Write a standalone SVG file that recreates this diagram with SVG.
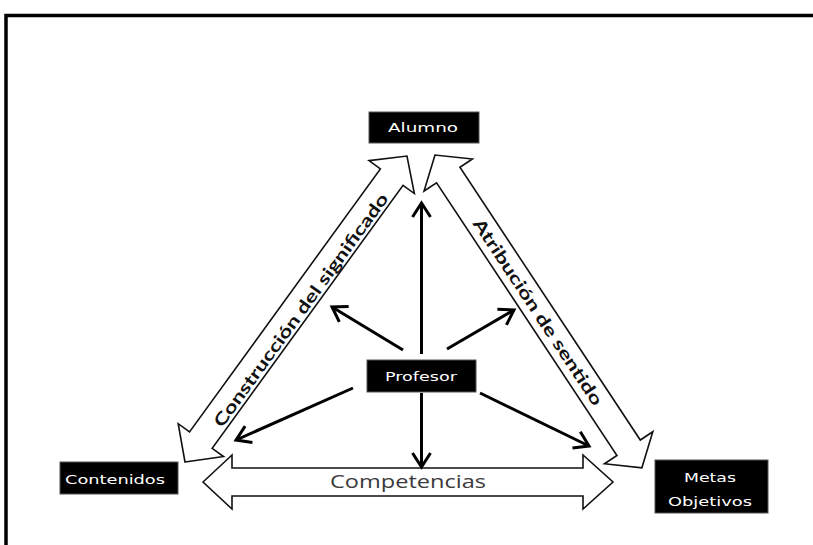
<svg xmlns="http://www.w3.org/2000/svg" width="813" height="545" viewBox="0 0 813 545">
<style>
.frame{fill:none;stroke:#000;stroke-width:3.5}
.big{fill:#fff;stroke:#111;stroke-width:1.6;stroke-linejoin:miter}
.box{fill:#000;stroke:#555;stroke-width:1}
.bt{fill:#fff;font-family:"DejaVu Sans","Liberation Sans",sans-serif;font-size:13px;text-anchor:middle}
.lbl{fill:#111;font-family:Lato,"Open Sans","Liberation Sans",sans-serif;font-weight:bold;font-size:17px;text-anchor:middle}
.comp{fill:#3a3a3a;font-family:"Open Sans","Liberation Sans",sans-serif;font-size:18px;text-anchor:middle}
.ln{stroke:#000;stroke-width:3;fill:none}
</style>
<defs>
<marker id="ah" markerUnits="userSpaceOnUse" markerWidth="24" markerHeight="24" viewBox="-20 -12 24 24" refX="0" refY="0" orient="auto">
<path d="M-14,-9 L0,0 L-14,9" fill="none" stroke="#000" stroke-width="3"/>
</marker>
</defs>
<rect width="813" height="545" fill="#fff"/>
<polyline class="frame" points="6,545 6,15.5 813,15.5"/>
<g id="connectors">
<g id="arrow-construccion" transform="translate(185,462) rotate(-54.04)">
<polygon class="big" points="0,0 27,28 27,14 352,14 352,28 378,0 352,-28 352,-14 27,-14 27,-28"/>
</g>
<text class="lbl" transform="translate(301,310) rotate(-54)" dy="0.35em" textLength="284" lengthAdjust="spacingAndGlyphs">Construcción del significado</text>
<g id="arrow-atribucion" transform="translate(435,155) rotate(56.52)">
<polygon class="big" points="0,0 24,29 24,14 351,14 351,29 375,0 351,-29 351,-14 24,-14 24,-29"/>
</g>
<text class="lbl" transform="translate(538,312) rotate(56.5)" dy="0.35em" textLength="220" lengthAdjust="spacingAndGlyphs">Atribución de sentido</text>
<g id="arrow-competencias">
<polygon class="big" points="203,482 232,455 232,468 583,468 583,455 613,482 583,509 583,496 232,496 232,509"/>
</g>
<text class="comp" x="408" y="488" textLength="156" lengthAdjust="spacingAndGlyphs">Competencias</text>
<line class="ln" x1="421.5" y1="354" x2="421.5" y2="203" marker-end="url(#ah)"/>
<line class="ln" x1="421.5" y1="393" x2="421.5" y2="467" marker-end="url(#ah)"/>
<line class="ln" x1="403" y1="350" x2="332" y2="307" marker-end="url(#ah)"/>
<line class="ln" x1="447" y1="349" x2="514" y2="310" marker-end="url(#ah)"/>
<line class="ln" x1="353" y1="388" x2="236" y2="440" marker-end="url(#ah)"/>
<line class="ln" x1="480" y1="393" x2="589" y2="446" marker-end="url(#ah)"/>
</g>
<g id="alumno">
<rect class="box" x="369" y="112" width="110" height="31"/>
<text class="bt" x="423" y="132" textLength="70" lengthAdjust="spacingAndGlyphs">Alumno</text>
</g>
<g id="profesor">
<rect class="box" x="367" y="360" width="109" height="32"/>
<text class="bt" x="421" y="381" font-size="15" textLength="72" lengthAdjust="spacingAndGlyphs">Profesor</text>
</g>
<g id="contenidos">
<rect class="box" x="60" y="462" width="118" height="32"/>
<text class="bt" x="115" y="484" textLength="100" lengthAdjust="spacingAndGlyphs">Contenidos</text>
</g>
<g id="metas">
<rect class="box" x="655" y="460" width="113" height="53"/>
<text class="bt" x="710" y="482" textLength="52" lengthAdjust="spacingAndGlyphs">Metas</text>
<text class="bt" x="710" y="506" textLength="84" lengthAdjust="spacingAndGlyphs">Objetivos</text>
</g>
</svg>
